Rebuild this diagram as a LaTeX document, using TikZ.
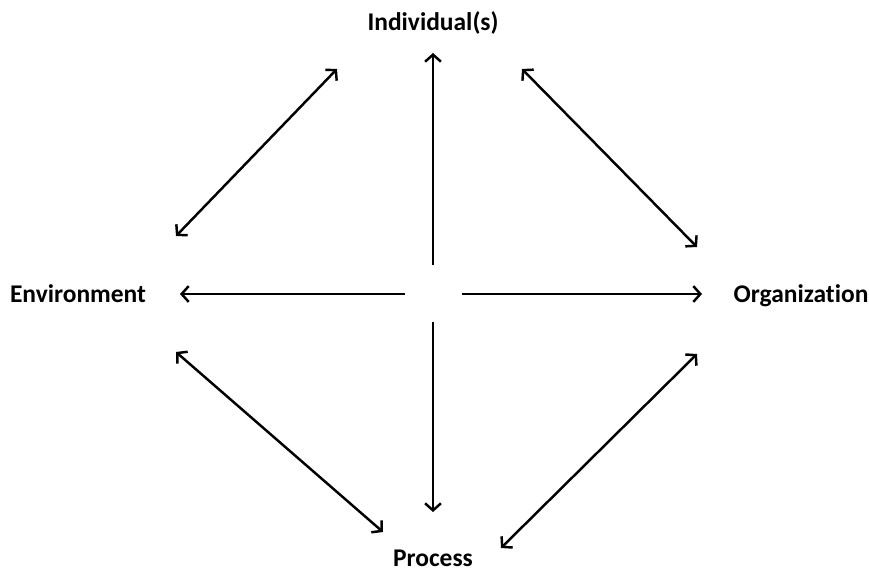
\documentclass[tikz,border=0pt]{standalone}
\usepackage{fontspec}
\setmainfont{Carlito}[RawFeature={-liga;-clig;-calt;-dlig}]
\usetikzlibrary{arrows.meta}

\begin{document}
\begin{tikzpicture}[
  x=0.02cm, y=-0.02cm,
  >={Straight Barb[length=4pt,width=9pt]},
  lbl/.style={font=\bfseries\fontsize{14.5}{17}\selectfont, inner sep=0pt, anchor=base},
  arr/.style={<->, line width=1.4pt},
  ray/.style={->, line width=1.4pt},
]
\useasboundingbox (0,0) rectangle (869,572);

% labels
\node[lbl] (indiv) at (433,30) {Individual(s)};
\node[lbl] (env) at (78,302) {Environment};
\node[lbl] (org) at (801,302) {Organization};
\node[lbl] (proc) at (433,566) {Process};

% ends of the arrows
\coordinate (hubN) at (433,265);
\coordinate (hubS) at (433,322);
\coordinate (hubW) at (405,294);
\coordinate (hubE) at (462,294);
\coordinate (tipN) at (433,53);
\coordinate (tipS) at (433,512);
\coordinate (tipW) at (180,294);
\coordinate (tipE) at (702,294);

\coordinate (nwA) at (176,236);
\coordinate (nwB) at (337,69);
\coordinate (neA) at (522,69);
\coordinate (neB) at (697,247);
\coordinate (swA) at (176,352);
\coordinate (swB) at (383,532);
\coordinate (seA) at (697,354);
\coordinate (seB) at (501,548);

% from the middle outwards
\draw[ray] (hubN) -- (tipN);
\draw[ray] (hubS) -- (tipS);
\draw[ray] (hubW) -- (tipW);
\draw[ray] (hubE) -- (tipE);

% round the outside
\draw[arr] (nwA) -- (nwB);
\draw[arr] (neA) -- (neB);
\draw[arr] (swA) -- (swB);
\draw[arr] (seA) -- (seB);

\end{tikzpicture}
\end{document}
